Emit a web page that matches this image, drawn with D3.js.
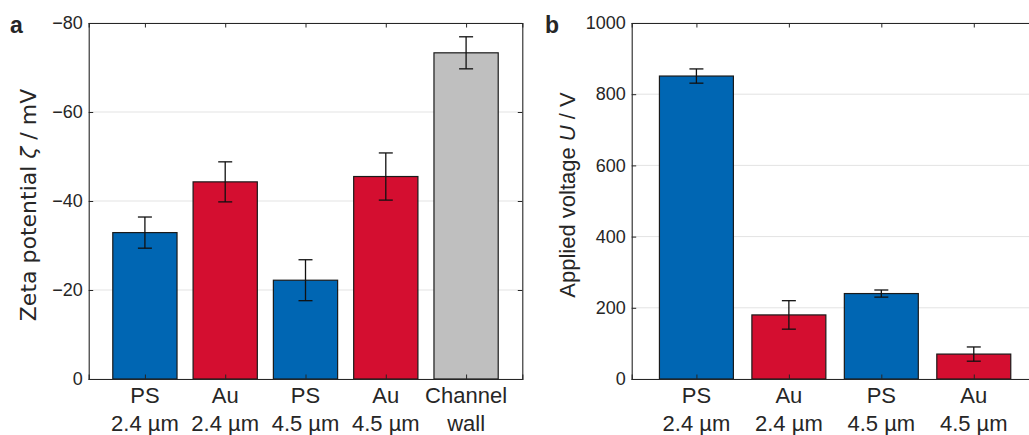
<!DOCTYPE html>
<html>
<head>
<meta charset="utf-8">
<script src="https://cdn.jsdelivr.net/npm/d3@7"></script>
<style>
  body { margin: 0; background: #fff; }
  svg { display: block; }
  text { font-family: "Liberation Sans", Arial, Helvetica, sans-serif; fill: #262626; }
</style>
</head>
<body>
<svg id="chart" width="1029" height="435"></svg>
<script>
// panel a: zeta potential
var labelsA = [["PS", "2.4 µm"], ["Au", "2.4 µm"], ["PS", "4.5 µm"], ["Au", "4.5 µm"], ["Channel", "wall"]];
var materialA = ["PS", "Au", "PS", "Au", "wall"];
var zetaA = [-32.9, -44.3, -22.2, -45.5, -73.3];
var zetaErrA = [3.5, 4.5, 4.6, 5.3, 3.6];
var yTicksA = [0, -20, -40, -60, -80];

// panel b: applied voltage
var labelsB = [["PS", "2.4 µm"], ["Au", "2.4 µm"], ["PS", "4.5 µm"], ["Au", "4.5 µm"]];
var materialB = ["PS", "Au", "PS", "Au"];
var voltB = [851, 180, 240, 70];
var voltErrB = [20, 40, 10, 20];
var yTicksB = [0, 200, 400, 600, 800, 1000];

var colors = { PS: "#0066b3", Au: "#d40e30", wall: "#bfbfbf" };

var svg = d3.select("#chart");
var plotTop = 23, plotBottom = 379;

function drawPanel(opt) {
  var n = opt.values.length;
  var x = d3.scaleLinear().domain([0.3, n + 0.7]).range([opt.left, opt.right]);
  var y = d3.scaleLinear().domain(opt.domain).range([plotBottom, plotTop]);
  var g = svg.append("g");
  var bw = x(1.4) - x(0.6);

  // gridlines
  g.selectAll(".grid")
    .data(opt.ticks)
    .enter().append("line")
    .attr("x1", opt.left).attr("x2", opt.right)
    .attr("y1", function(d) { return y(d); })
    .attr("y2", function(d) { return y(d); })
    .attr("stroke", "#e3e3e3")
    .attr("stroke-width", 1);

  // bars
  g.selectAll(".bar")
    .data(opt.values)
    .enter().append("rect")
    .attr("x", function(d, i) { return x(i + 1) - bw / 2; })
    .attr("y", function(d) { return Math.min(y(d), y(0)); })
    .attr("width", bw)
    .attr("height", function(d) { return Math.abs(y(0) - y(d)); })
    .attr("fill", function(d, i) { return colors[opt.material[i]]; })
    .attr("stroke", "#1a1a1a")
    .attr("stroke-width", 1.2);

  // error bars
  var eb = g.selectAll(".err")
    .data(opt.values)
    .enter().append("g");
  eb.append("line")
    .attr("x1", function(d, i) { return x(i + 1); })
    .attr("x2", function(d, i) { return x(i + 1); })
    .attr("y1", function(d, i) { return y(d - opt.errs[i]); })
    .attr("y2", function(d, i) { return y(d + opt.errs[i]); });
  eb.append("line")
    .attr("x1", function(d, i) { return x(i + 1) - 7; })
    .attr("x2", function(d, i) { return x(i + 1) + 7; })
    .attr("y1", function(d, i) { return y(d - opt.errs[i]); })
    .attr("y2", function(d, i) { return y(d - opt.errs[i]); });
  eb.append("line")
    .attr("x1", function(d, i) { return x(i + 1) - 7; })
    .attr("x2", function(d, i) { return x(i + 1) + 7; })
    .attr("y1", function(d, i) { return y(d + opt.errs[i]); })
    .attr("y2", function(d, i) { return y(d + opt.errs[i]); });
  eb.selectAll("line").attr("stroke", "#111").attr("stroke-width", 1.3);

  // axes (ticks pointing inward, box on)
  var cats = d3.range(1, n + 1);
  var axL = g.append("g").attr("transform", "translate(" + opt.left + ",0)")
    .call(d3.axisLeft(y).tickValues(opt.ticks).tickSize(-4.5).tickPadding(6).tickFormat(d3.format("d")));
  var axR = g.append("g").attr("transform", "translate(" + opt.right + ",0)")
    .call(d3.axisRight(y).tickValues(opt.ticks).tickSize(-4.5).tickFormat(""));
  var axB = g.append("g").attr("transform", "translate(0," + plotBottom + ")")
    .call(d3.axisBottom(x).tickValues(cats).tickSize(-4.5).tickFormat(""));
  var axT = g.append("g").attr("transform", "translate(0," + plotTop + ")")
    .call(d3.axisTop(x).tickValues(cats).tickSize(-4.5).tickFormat(""));
  [axL, axR, axB, axT].forEach(function(a) {
    a.select(".domain").attr("stroke", "#262626").attr("stroke-width", 1.1);
    a.selectAll(".tick line").attr("stroke", "#262626").attr("stroke-width", 1);
  });
  axL.selectAll("text")
    .style("font-family", "'Liberation Sans', Arial, sans-serif")
    .style("font-size", "18px")
    .attr("fill", "#262626");

  // category labels (two lines)
  var lab = g.selectAll(".xlab")
    .data(opt.labels)
    .enter().append("text")
    .attr("text-anchor", "middle")
    .style("font-size", "22px");
  lab.append("tspan")
    .attr("x", function(d, i) { return x(i + 1); })
    .attr("y", 402.5)
    .text(function(d) { return d[0]; });
  lab.append("tspan")
    .attr("x", function(d, i) { return x(i + 1); })
    .attr("y", 430.5)
    .text(function(d) { return d[1]; });

  // y title
  var t = g.append("text")
    .attr("transform", "translate(" + opt.titleX + "," + opt.titleY + ") rotate(-90)")
    .attr("text-anchor", "middle")
    .style("font-size", opt.titleSize)
    .style("font-family", opt.titleFont);
  t.append("tspan").text(opt.title[0]);
  t.append("tspan").style("font-style", "italic").text(opt.title[1]);
  t.append("tspan").text(opt.title[2]);

  // panel letter
  g.append("text")
    .attr("x", opt.letterX).attr("y", 33)
    .style("font-size", "23px")
    .style("font-weight", "bold")
    .attr("fill", "#000")
    .text(opt.letter);
}

drawPanel({
  values: zetaA, errs: zetaErrA, labels: labelsA, material: materialA,
  domain: [0, -80], ticks: yTicksA,
  left: 88.7, right: 522.3,
  title: ["Zeta potential ", "ζ", " / mV"], titleX: 36, titleY: 205, titleSize: "22px",
  titleFont: "'DejaVu Sans', sans-serif",
  letter: "a", letterX: 10
});

drawPanel({
  values: voltB, errs: voltErrB, labels: labelsB, material: materialB,
  domain: [0, 1000], ticks: yTicksB,
  left: 631.7, right: 1038.5,
  title: ["Applied voltage ", "U", " / V"], titleX: 575, titleY: 195, titleSize: "22px",
  titleFont: "'Liberation Sans', Arial, sans-serif",
  letter: "b", letterX: 545
});
</script>
</body>
</html>
